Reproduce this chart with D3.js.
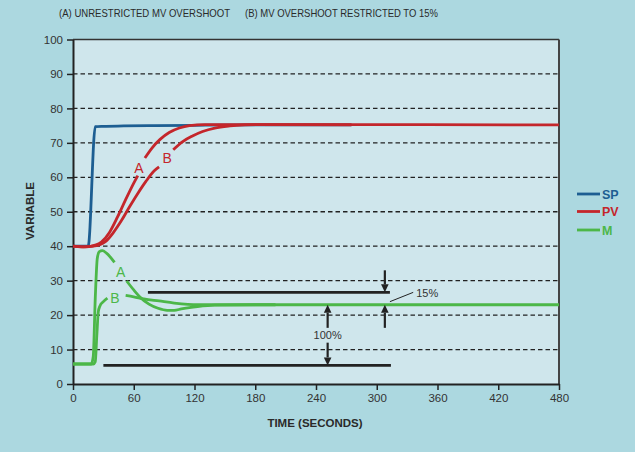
<!DOCTYPE html>
<html><head><meta charset="utf-8">
<script src="https://cdn.jsdelivr.net/npm/d3@7"></script>
<style>html,body{margin:0;padding:0;background:#acd8e0;} svg{display:block;}</style>
</head><body><svg id="c" width="635" height="452"></svg>
<script>
// ---- data ----
const titleA = "(A) UNRESTRICTED MV OVERSHOOT";
const titleB = "(B) MV OVERSHOOT RESTRICTED TO 15%";
const xTicks = [0, 60, 120, 180, 240, 300, 360, 420, 480];
const yTicks = [0, 10, 20, 30, 40, 50, 60, 70, 80, 90, 100];
const gridVals = [10, 20, 30, 40, 50, 60, 70, 80, 90];
const legendNames = ["SP", "PV", "M"];

const spT = [0, 15, 22, 30, 50, 80, 120, 180, 275];
const spV = [40, 40, 74.7, 74.8, 74.9, 75.0, 75.1, 75.2, 75.2];

const pvAT = [0, 8, 16, 22, 28, 36, 44, 52, 60, 64, null, 71, 78, 86, 95, 105, 115, 130, 150, 275];
const pvAV = [40, 39.8, 39.9, 40.3, 41.2, 44, 48.5, 53.5, 58.3, 60.5, null, 65.6, 68.5, 71, 73, 74.3, 75, 75.3, 75.3, 75.2];

const pvBT = [0, 10, 20, 26, 32, 40, 48, 56, 64, 72, 80, 85, null, 99, 108, 118, 128, 140, 155, 170, 185, 480];
const pvBV = [40, 39.8, 40, 40.4, 41.3, 44, 47.5, 51.5, 55.3, 58.8, 61.8, 63, null, 68, 70.3, 72, 73.3, 74.3, 74.9, 75.2, 75.3, 75.2];

const mAT = [0, 18, 20, 22, 24, 26, 29, 33, 41, null, 53, 60, 67, 75, 84, 93, 100, 107, 115, 123, 140, 180, 200];
const mAV = [5.8, 5.8, 8, 25, 36.5, 38.4, 38.7, 38, 35.3, null, 29.9, 27.3, 25, 23.2, 22, 21.4, 21.4, 21.8, 22.2, 22.5, 22.9, 23, 23];

const mBT = [0, 20, 22, 23.5, 25, 26.5, 30, 34, null, 52, 60, 70, 85, 100, 123, 150, 480];
const mBV = [5.8, 5.8, 6.5, 14, 21, 22.6, 23.9, 24.9, null, 25.7, 25.3, 24.7, 24.1, 23.5, 23, 23, 23];

// annotation values
const limitUpper = {v: 26.6, t0: 74, t1: 313};
const limitLower = {v: 5.4, t0: 30, t1: 314};
const arrow15 = {t: 308, topFrom: 33, topTo: 26.6, botFrom: 16.3, botTo: 23};
const arrow100 = {t: 251.5, upFrom: 16.3, upTo: 23, downFrom: 12, downTo: 5.4};

// ---- drawing ----
const svg = d3.select("#c");
const W = 635, H = 452;
const col = {SP: "#1d5e92", PV: "#c4262b", M: "#4cb748"};
const font = "'Liberation Sans', Arial, sans-serif";

svg.append("rect").attr("width", W).attr("height", H).attr("fill", "#acd8e0");

const x = d3.scaleLinear().domain([0, 480]).range([73, 559]);
const y = d3.scaleLinear().domain([0, 100]).range([384, 39.5]);

svg.append("rect").attr("x", x(0)).attr("y", y(100)).attr("width", x(480) - x(0)).attr("height", y(0) - y(100)).attr("fill", "#cfe6ec");

// grid
svg.append("g").selectAll("line").data(gridVals).join("line")
  .attr("x1", x(0)).attr("x2", x(480)).attr("y1", d => y(d)).attr("y2", d => y(d))
  .attr("stroke", "#222").attr("stroke-width", 1.3).attr("stroke-dasharray", "4.5,3");

// frame top and right
svg.append("line").attr("x1", x(0)).attr("x2", x(480)).attr("y1", y(100)).attr("y2", y(100)).attr("stroke", "#333").attr("stroke-width", 1.5);
svg.append("line").attr("x1", x(480)).attr("x2", x(480)).attr("y1", y(100)).attr("y2", y(0)).attr("stroke", "#444").attr("stroke-width", 2);

// axes
const gx = svg.append("g").attr("transform", `translate(0,${y(0)})`)
  .call(d3.axisBottom(x).tickValues(xTicks).tickSize(6).tickPadding(4).tickSizeOuter(0));
const gy = svg.append("g").attr("transform", `translate(${x(0)},0)`)
  .call(d3.axisLeft(y).tickValues(yTicks).tickSize(6).tickPadding(4).tickSizeOuter(0));
[gx, gy].forEach(g => {
  g.select(".domain").attr("stroke", "#222").attr("stroke-width", 2);
  g.selectAll(".tick line").attr("stroke", "#222").attr("stroke-width", 1.5);
  g.selectAll(".tick text").attr("fill", "#333").style("font-family", font).style("font-size", "11.5px");
});

// axis titles
svg.append("text").attr("x", 315).attr("y", 427).attr("text-anchor", "middle")
  .style("font-family", font).style("font-size", "11.5px").style("font-weight", "bold").attr("fill", "#2a2a2a")
  .text("TIME (SECONDS)");
svg.append("text").attr("transform", "translate(34,211) rotate(-90)").attr("text-anchor", "middle")
  .style("font-family", font).style("font-size", "11.5px").style("font-weight", "bold").attr("fill", "#2a2a2a")
  .text("VARIABLE");

// titles
svg.append("text").attr("x", 59).attr("y", 17).attr("textLength", 171).attr("lengthAdjust", "spacingAndGlyphs")
  .style("font-family", font).style("font-size", "11px").attr("fill", "#2a2a2a").text(titleA);
svg.append("text").attr("x", 245).attr("y", 17).attr("textLength", 193).attr("lengthAdjust", "spacingAndGlyphs")
  .style("font-family", font).style("font-size", "11px").attr("fill", "#2a2a2a").text(titleB);

// series
const zip = (ts, vs) => ts.map((t, i) => ({t, v: vs[i]}));
const line = d3.line().defined(d => d.t !== null && d.v !== null)
  .x(d => x(d.t)).y(d => y(d.v)).curve(d3.curveMonotoneX);
const series = [
  {d: zip(mAT, mAV), c: col.M},
  {d: zip(mBT, mBV), c: col.M},
  {d: zip(spT, spV), c: col.SP},
  {d: zip(pvBT, pvBV), c: col.PV},
  {d: zip(pvAT, pvAV), c: col.PV}
];
svg.append("g").selectAll("path").data(series).join("path")
  .attr("d", s => line(s.d)).attr("fill", "none").attr("stroke", s => s.c)
  .attr("stroke-width", 2.8).attr("stroke-linejoin", "round");

// curve labels
const curveLabels = [
  {t: 65, v: 62.8, s: "A", c: col.PV},
  {t: 93, v: 65.5, s: "B", c: col.PV},
  {t: 47, v: 32.5, s: "A", c: col.M},
  {t: 41.5, v: 25, s: "B", c: col.M}
];
svg.append("g").selectAll("text").data(curveLabels).join("text")
  .attr("x", d => x(d.t)).attr("y", d => y(d.v)).attr("text-anchor", "middle").attr("dy", "0.36em")
  .style("font-family", font).style("font-size", "14px").attr("fill", d => d.c).text(d => d.s);

// annotation lines
const ann = svg.append("g");
[limitUpper, limitLower].forEach(l => {
  ann.append("line").attr("x1", x(l.t0)).attr("x2", x(l.t1)).attr("y1", y(l.v)).attr("y2", y(l.v))
    .attr("stroke", "#222").attr("stroke-width", 2.6);
});
function arrow(t, vFrom, vTo) {
  const X = x(t), y0 = y(vFrom), y1 = y(vTo);
  const dir = Math.sign(y1 - y0), hl = 8, hw = 3.8;
  ann.append("line").attr("x1", X).attr("x2", X).attr("y1", y0).attr("y2", y1 - dir * hl)
    .attr("stroke", "#222").attr("stroke-width", 2.2);
  ann.append("path").attr("d", `M${X - hw},${y1 - dir * hl}L${X + hw},${y1 - dir * hl}L${X},${y1}Z`).attr("fill", "#222");
}
arrow(arrow15.t, arrow15.topFrom, arrow15.topTo);
arrow(arrow15.t, arrow15.botFrom, arrow15.botTo);
arrow(arrow100.t, arrow100.upFrom, arrow100.upTo);
arrow(arrow100.t, arrow100.downFrom, arrow100.downTo);
ann.append("line").attr("x1", x(313)).attr("y1", y(23.9)).attr("x2", x(336)).attr("y2", y(26.6))
  .attr("stroke", "#222").attr("stroke-width", 1);
ann.append("text").attr("x", x(339)).attr("y", y(26.3)).attr("dy", "0.35em")
  .style("font-family", font).style("font-size", "11px").attr("fill", "#333").text("15%");
ann.append("text").attr("x", x(arrow100.t)).attr("y", y(14.1)).attr("dy", "0.35em").attr("text-anchor", "middle")
  .style("font-family", font).style("font-size", "11px").attr("fill", "#333").text("100%");

// legend
const lg = svg.append("g").selectAll("g").data(legendNames).join("g")
  .attr("transform", (d, i) => `translate(577,${[194, 211.5, 230][i]})`);
lg.append("line").attr("x1", 0).attr("x2", 23).attr("stroke", d => col[d]).attr("stroke-width", 2.8);
lg.append("text").attr("x", 25).attr("dy", "0.36em").style("font-family", font).style("font-size", "12.5px")
  .style("font-weight", "bold").attr("fill", d => col[d]).text(d => d);
</script></body></html>
